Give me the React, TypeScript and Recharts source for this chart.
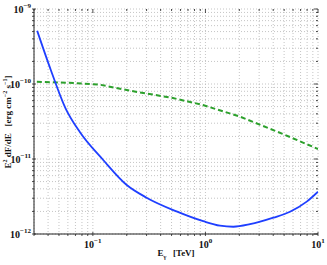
import { LineChart, Line, XAxis, YAxis, CartesianGrid } from "recharts";

// sensitivity curve (blue, solid)
const blueE = [0.032, 0.0423, 0.0572, 0.0766, 0.1236, 0.2, 0.3, 0.554, 0.956, 1.345, 1.77, 2.49, 4.01, 5.64, 7.94, 10];
const blueF = [5.14e-10, 1.54e-10, 4.74e-11, 2.29e-11, 9.7e-12, 4.5e-12, 3.05e-12, 2.0e-12, 1.48e-12, 1.29e-12, 1.25e-12, 1.35e-12, 1.65e-12, 1.98e-12, 2.7e-12, 3.66e-12];

// source spectrum (green, dashed)
const greenE = [0.0318, 0.06, 0.115, 0.213, 0.514, 0.95, 2.03, 4.89, 10];
const greenF = [1.07e-10, 1.04e-10, 0.98e-10, 8.15e-11, 6.5e-11, 5.25e-11, 3.67e-11, 2.15e-11, 1.36e-11];

const xTicks = [0.03, 0.04, 0.05, 0.06, 0.07, 0.08, 0.09, 0.1, 0.2, 0.3, 0.4, 0.5, 0.6, 0.7, 0.8, 0.9, 1, 2, 3, 4, 5, 6, 7, 8, 9, 10];
const yTicks = [
  1e-12, 2e-12, 3e-12, 4e-12, 5e-12, 6e-12, 7e-12, 8e-12, 9e-12,
  1e-11, 2e-11, 3e-11, 4e-11, 5e-11, 6e-11, 7e-11, 8e-11, 9e-11,
  1e-10, 2e-10, 3e-10, 4e-10, 5e-10, 6e-10, 7e-10, 8e-10, 9e-10, 1e-9,
];

const blue = blueE.map((e, i) => ({ e, f: blueF[i] }));
const green = greenE.map((e, i) => ({ e, f: greenF[i] }));

const FONT = "'Liberation Serif', 'DejaVu Serif', serif";

function isDecade(v: number) {
  const l = Math.log10(v);
  return Math.abs(l - Math.round(l)) < 1e-6;
}

function XTick({ x, y, payload }: any) {
  const v = payload.value;
  const major = isDecade(v);
  const len = major ? 4 : 2;
  return (
    <g>
      <line x1={x} x2={x} y1={y} y2={y - len} stroke="#222" strokeWidth={0.8} />
      <line x1={x} x2={x} y1={9} y2={9 + len} stroke="#222" strokeWidth={0.8} />
      {major && (
        <text x={x} y={y + 12} textAnchor="middle" fontFamily={FONT} fontWeight="bold" fontSize={10} fill="#111">
          10
          <tspan dy={-5} fontSize={7}>{String(Math.round(Math.log10(v))).replace("-", "\u2212")}</tspan>
        </text>
      )}
    </g>
  );
}

function YTick({ x, y, payload }: any) {
  const v = payload.value;
  const major = isDecade(v);
  const len = major ? 4 : 2;
  return (
    <g>
      <line x1={x} x2={x + len} y1={y} y2={y} stroke="#222" strokeWidth={0.8} />
      <line x1={318} x2={318 - len} y1={y} y2={y} stroke="#222" strokeWidth={0.8} />
      {major && (
        <text x={x - 1} y={y + 4} textAnchor="end" fontFamily={FONT} fontWeight="bold" fontSize={10} fill="#111">
          10
          <tspan dy={-5} fontSize={7}>{"\u2212" + Math.abs(Math.round(Math.log10(v)))}</tspan>
        </text>
      )}
    </g>
  );
}

export default function App() {
  return (
    <div style={{ position: "relative", width: 327, height: 265, background: "#fff" }}>
      <style>{"body{margin:0}"}</style>
      <LineChart width={327} height={265} margin={{ top: 9, right: 9, left: 0, bottom: 0 }}>
        <CartesianGrid stroke="#b5b5b5" strokeDasharray="1 2" strokeWidth={0.8} />
        <XAxis
          dataKey="e"
          type="number"
          scale="log"
          domain={[0.03, 10]}
          ticks={xTicks}
          interval={0}
          allowDataOverflow
          height={31}
          tickLine={false}
          tickSize={0}
          axisLine={{ stroke: "#222" }}
          tick={<XTick />}
        />
        <XAxis xAxisId="top" orientation="top" height={0} tick={false} axisLine={{ stroke: "#222" }} />
        <YAxis
          dataKey="f"
          type="number"
          scale="log"
          domain={[1e-12, 1e-9]}
          ticks={yTicks}
          interval={0}
          allowDataOverflow
          width={34}
          tickLine={false}
          tickSize={0}
          axisLine={{ stroke: "#222" }}
          tick={<YTick />}
        />
        <YAxis yAxisId="right" orientation="right" width={0} tick={false} axisLine={{ stroke: "#222" }} />
        <Line data={green} dataKey="f" stroke="#2ca02c" strokeWidth={2} strokeDasharray="5 3" dot={false} isAnimationActive={false} />
        <Line data={blue} dataKey="f" stroke="#1f3fff" strokeWidth={1.8} dot={false} type="monotone" isAnimationActive={false} />
      </LineChart>
      <svg width={327} height={265} style={{ position: "absolute", left: 0, top: 0, pointerEvents: "none" }}>
        <text
          transform="translate(11,122) rotate(-90)"
          textAnchor="middle"
          fontFamily={FONT}
          fontWeight="bold"
          fontSize={9}
          fill="#111"
        >
          E<tspan dy={-4} fontSize={6}>2</tspan>
          <tspan dy={4}> dF/dE{"\u00a0\u00a0\u00a0"}[erg cm</tspan>
          <tspan dy={-4} fontSize={6}>−2</tspan>
          <tspan dy={4}> s</tspan>
          <tspan dy={-4} fontSize={6}>−1</tspan>
          <tspan dy={4}>]</tspan>
        </text>
        <text x={176} y={256} textAnchor="middle" fontFamily={FONT} fontWeight="bold" fontSize={9} fill="#111">
          E<tspan dy={3} fontSize={6}>γ</tspan>
          <tspan dy={-3}>{"\u00a0\u00a0\u00a0"}[TeV]</tspan>
        </text>
      </svg>
    </div>
  );
}
